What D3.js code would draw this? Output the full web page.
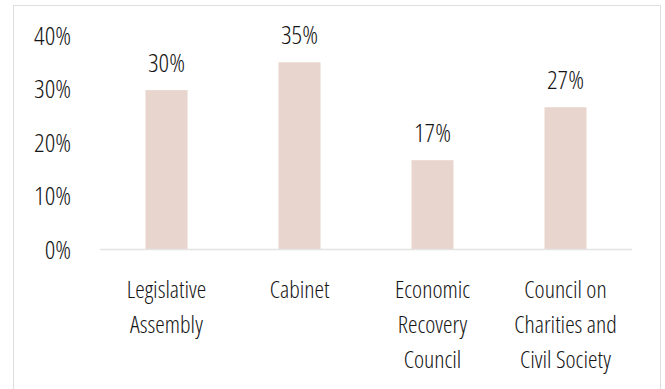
<!DOCTYPE html>
<html>
<head>
<meta charset="utf-8">
<script src="https://cdn.jsdelivr.net/npm/d3@7"></script>
<style>
  body { margin: 0; background: #fff; }
  text { font-family: "Open Sans", sans-serif; font-weight: 350; font-stretch: condensed; fill: #151515; }
</style>
</head>
<body>
<script>
// chart data
var categories = [
  ["Legislative", "Assembly"],
  ["Cabinet"],
  ["Economic", "Recovery", "Council"],
  ["Council on", "Charities and", "Civil Society"]
];
var shares = [0.297, 0.349, 0.166, 0.265];
var yTicks = [0, 0.1, 0.2, 0.3, 0.4];

var width = 665, height = 389;
var margin = {top: 35, right: 33, bottom: 140, left: 100};

var svg = d3.select("body").append("svg")
    .attr("width", width)
    .attr("height", height);

// frame around the chart
svg.append("rect")
    .attr("x", 13.5)
    .attr("y", 5.5)
    .attr("width", 647)
    .attr("height", 400)
    .attr("fill", "none")
    .attr("stroke", "#dedede")
    .attr("stroke-width", 1);

var x = d3.scaleBand()
    .domain(d3.range(categories.length))
    .range([margin.left, width - margin.right])
    .paddingInner(0.684)
    .paddingOuter(0.342);

var y = d3.scaleLinear()
    .domain([0, 0.4])
    .range([249, 35]);

var fmt = d3.format(".0%");

// y axis labels only
var yAxis = svg.append("g")
    .attr("transform", "translate(71,0)")
    .call(d3.axisLeft(y).tickValues(yTicks).tickFormat(fmt).tickSize(0).tickPadding(0));
yAxis.select(".domain").remove();
yAxis.attr("font-family", null).attr("font-size", null);
yAxis.selectAll("text")
    .attr("font-size", 26)
    .attr("dy", "0.36em")
    .attr("fill", "#151515");

svg.selectAll(".bar")
    .data(shares)
    .enter().append("rect")
    .attr("class", "bar")
    .attr("x", function(d, i) { return x(i); })
    .attr("width", x.bandwidth())
    .attr("y", function(d) { return y(d); })
    .attr("height", function(d) { return y(0) - y(d); })
    .attr("fill", "#e8d5cd");

// baseline
svg.append("line")
    .attr("x1", margin.left)
    .attr("x2", width - margin.right)
    .attr("y1", y(0) + 0.5)
    .attr("y2", y(0) + 0.5)
    .attr("stroke", "#e3e3e3")
    .attr("stroke-width", 1.5);

svg.selectAll(".val")
    .data(shares)
    .enter().append("text")
    .attr("class", "val")
    .attr("x", function(d, i) { return x(i) + x.bandwidth() / 2; })
    .attr("y", function(d) { return y(d) - 18.5; })
    .attr("text-anchor", "middle")
    .attr("font-size", 26)
    .text(function(d) { return fmt(d); });

// category labels, wrapped by hand
var cat = svg.selectAll(".cat")
    .data(categories)
    .enter().append("text")
    .attr("class", "cat")
    .attr("text-anchor", "middle")
    .attr("font-size", 24)
    .attr("transform", function(d, i) { return "translate(" + (x(i) + x.bandwidth() / 2) + ",298)"; });

cat.selectAll("tspan")
    .data(function(d) { return d; })
    .enter().append("tspan")
    .attr("x", 0)
    .attr("y", function(d, j) { return j * 35; })
    .text(function(d) { return d; });
</script>
</body>
</html>
